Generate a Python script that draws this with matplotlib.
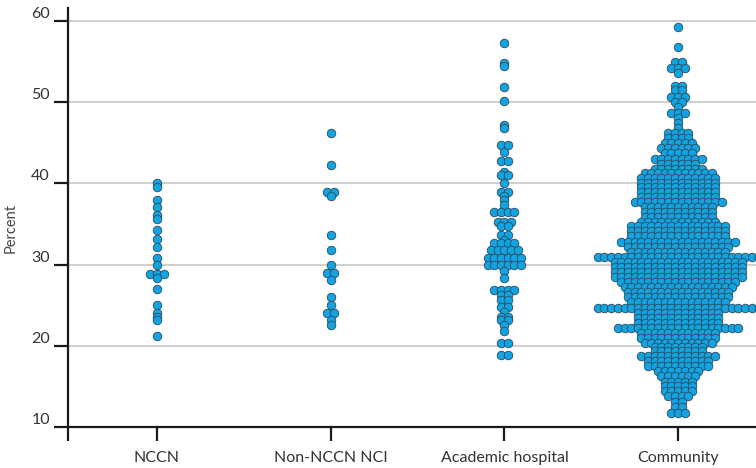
import matplotlib.pyplot as plt
import numpy as np

plt.rcParams['font.family'] = ['Lato', 'DejaVu Sans']

categories = ['NCCN', 'Non-NCCN NCI', 'Academic hospital', 'Community']

nccn = [40.0, 39.6, 38.0, 37.1, 36.1, 35.6, 34.2, 33.2, 32.2, 30.8, 29.9,
        28.9, 28.9, 28.9, 28.3, 27.0, 25.0, 24.0, 23.6, 23.2, 21.2]

non_nccn_nci = [46.2, 42.3, 39.0, 39.0, 38.4, 33.6, 31.8, 29.9, 29.0, 29.0,
                28.1, 26.0, 25.0, 24.1, 24.1, 23.2, 22.6]

academic = [57.3, 54.8, 54.4, 51.9, 50.1, 47.2, 46.8, 44.7, 44.7, 43.9,
            42.8, 42.8, 41.4, 41.0, 41.0, 40.0, 39.0, 39.0, 38.4, 37.9,
            37.3, 36.5, 36.5, 36.5, 36.5, 35.3, 35.3, 35.3, 34.7, 34.7,
            33.6, 33.6, 33.0, 32.6, 32.6, 32.6, 32.6, 31.8, 31.8, 31.8,
            31.8, 31.8, 30.8, 30.8, 30.8, 30.8, 30.8, 30.8, 30.0, 30.0,
            30.0, 30.0, 30.0, 30.0, 29.2, 28.3, 26.9, 26.9, 26.9, 26.9,
            26.3, 26.3, 25.6, 25.6, 24.8, 24.8, 24.2, 23.6, 23.6, 23.2,
            23.2, 22.6, 21.8, 20.3, 20.3, 18.9, 18.9]

# community hospitals: value of each row and how many hospitals share it
community_vals = [59.3, 56.8, 54.9, 54.2, 53.6, 52.0, 51.5, 50.6, 50.0, 49.4,
                  48.7, 48.0, 47.4, 46.8, 46.2, 45.6, 45.0, 44.4, 43.8, 43.0,
                  42.4, 41.8, 41.3, 40.7, 40.1, 39.5, 38.9, 38.3, 37.7, 37.1,
                  36.5, 35.9, 35.3, 34.7, 34.1, 33.5, 32.8, 32.2, 31.6, 30.9,
                  30.3, 29.7, 29.1, 28.5, 27.9, 27.2, 26.6, 26.0, 25.4, 24.7,
                  24.0, 23.4, 22.8, 22.2, 21.6, 21.0, 20.4, 19.9, 19.3, 18.7,
                  18.1, 17.5, 16.9, 16.3, 15.6, 15.0, 14.4, 13.8, 13.1, 12.5,
                  11.7]
community_counts = [1, 1, 2, 3, 1, 2, 2, 3, 2, 1,
                    3, 1, 1, 1, 4, 4, 5, 6, 5, 8,
                    6, 8, 11, 12, 12, 12, 12, 12, 14, 11,
                    11, 11, 12, 15, 15, 15, 18, 16, 15, 25,
                    20, 20, 20, 20, 18, 17, 16, 16, 15, 25,
                    13, 13, 13, 19, 12, 12, 11, 8, 8, 12,
                    10, 10, 7, 6, 5, 5, 5, 4, 2, 2,
                    3]
community = np.repeat(community_vals, community_counts)

groups = [nccn, non_nccn_nci, academic, community]


def strip_offsets(values, step):
    """Ties are laid side by side, centred on the category."""
    values = np.asarray(values)
    offs = np.zeros(len(values))
    for v in np.unique(values):
        idx = np.where(values == v)[0]
        n = len(idx)
        offs[idx] = (np.arange(n) - (n - 1) / 2) * step
    return offs


fig = plt.figure(figsize=(7.56, 4.68), dpi=100)
ax = fig.add_axes([68 / 756, 41 / 468, 688 / 756, 419 / 468])

xmin, xmax = -0.512, 3.448
ax.set_xlim(xmin, xmax)
ax.set_ylim(10, 61.6)

px_per_x = ax.bbox.width / (xmax - xmin)
step = 6.7 / px_per_x

for i, vals in enumerate(groups):
    x = i + strip_offsets(vals, step)
    ax.scatter(x, vals, s=38, color='#12a3e2', edgecolors='#2d4b5c',
               linewidths=0.6, zorder=3)

ax.set_yticks([10, 20, 30, 40, 50, 60])
ax.yaxis.grid(True, color='#cccccc', linewidth=1.3)
ax.set_axisbelow(True)

ax.set_xticks([xmin, 0, 1, 2, 3])
ax.set_xticklabels([''] + categories)

for side in ['top', 'right']:
    ax.spines[side].set_visible(False)
for side in ['left', 'bottom']:
    ax.spines[side].set_linewidth(1.6)
    ax.spines[side].set_color('#1a1a1a')

ax.tick_params(axis='y', length=10, width=1.6, color='#1a1a1a', pad=3,
               labelsize=11.5, labelcolor='#333333')
ax.tick_params(axis='x', length=10, width=1.6, color='#1a1a1a', pad=7,
               labelsize=11.5, labelcolor='#333333')
for lab in ax.get_yticklabels():
    lab.set_verticalalignment('bottom')

ax.set_ylabel('Percent', fontsize=10.5, color='#444444')
ax.yaxis.set_label_coords(-0.073, 0.475)

fig.savefig('out.png', dpi=100)
